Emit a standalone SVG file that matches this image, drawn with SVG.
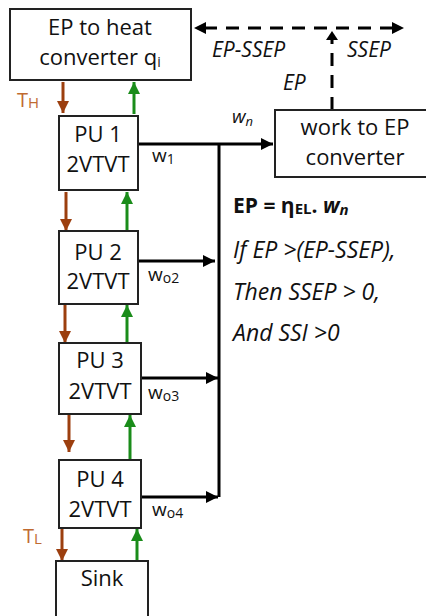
<svg xmlns="http://www.w3.org/2000/svg" width="426" height="616" viewBox="0 0 426 616">
<style>
.box{fill:#fff;stroke:#222;stroke-width:2}
.t{font-family:"Open Sans","Noto Sans",sans-serif;font-size:22px;fill:#111;text-anchor:middle}
.l{font-family:"Open Sans","Noto Sans",sans-serif;font-size:19px;fill:#111}
.s{font-family:"Open Sans","Noto Sans",sans-serif;font-size:21px;fill:#111}
.e{font-family:"Open Sans","Noto Sans",sans-serif;font-size:23px;fill:#111}
.i{font-style:italic}
.k{stroke:#000;stroke-width:3;fill:none}
.d{stroke:#000;stroke-width:3;fill:none;stroke-dasharray:13 9}
.br{stroke:#9C3F0F;stroke-width:3;fill:none}
.gr{stroke:#1A8C1A;stroke-width:3;fill:none}
.tc{font-family:"Open Sans","Noto Sans",sans-serif;font-size:20px;fill:#C06A30}
</style>
<defs>
<marker id="ak" markerWidth="12" markerHeight="12" refX="10" refY="5" orient="auto" markerUnits="userSpaceOnUse" viewBox="0 0 10 10"><path d="M0,0L10,5L0,10z" fill="#000"/></marker>
<marker id="ab" markerWidth="12" markerHeight="12" refX="10" refY="5" orient="auto" markerUnits="userSpaceOnUse" viewBox="0 0 10 10"><path d="M0,0L10,5L0,10z" fill="#9C3F0F"/></marker>
<marker id="ag" markerWidth="12" markerHeight="12" refX="10" refY="5" orient="auto" markerUnits="userSpaceOnUse" viewBox="0 0 10 10"><path d="M0,0L10,5L0,10z" fill="#1A8C1A"/></marker>
</defs>
<g id="connectors">
<path class="d" d="M332,110V36"/>
<path class="d" d="M204,28H396"/>
<path d="M194,28L206,22L206,34z" fill="#000"/>
<path d="M404,28L392,22L392,34z" fill="#000"/>
<path d="M332,31L326,40L338,40z" fill="#000"/>
<path class="k" d="M138,144H273" marker-end="url(#ak)"/>
<path class="k" d="M219,144V497"/>
<path class="k" d="M138,261H215" marker-end="url(#ak)"/>
<path class="k" d="M141,378H218" marker-end="url(#ak)"/>
<path class="k" d="M141,497H218" marker-end="url(#ak)"/>
<path class="br" d="M63,82V113" marker-end="url(#ab)"/>
<path class="gr" d="M134,114V82" marker-end="url(#ag)"/>
<path class="br" d="M66,192V231" marker-end="url(#ab)"/>
<path class="gr" d="M127,231V192" marker-end="url(#ag)"/>
<path class="br" d="M65,305V343" marker-end="url(#ab)"/>
<path class="gr" d="M127,343V305" marker-end="url(#ag)"/>
<path class="br" d="M69,415V452" marker-end="url(#ab)"/>
<path class="gr" d="M130,460V415" marker-end="url(#ag)"/>
<path class="br" d="M62,529V561" marker-end="url(#ab)"/>
<path class="gr" d="M137,561V529" marker-end="url(#ag)"/>
</g>
<g id="ep-heat">
<rect class="box" x="10" y="9" width="181" height="71"/>
<text class="t" x="100" y="35">EP to heat</text>
<text class="t" x="100" y="65">converter q<tspan font-size="14" dy="2">i</tspan></text>
</g>
<g id="work-ep">
<rect class="box" x="275" y="110" width="152" height="67"/>
<text class="t" x="355" y="135">work to EP</text>
<text class="t" x="355" y="165">converter</text>
</g>
<g id="pu1">
<rect class="box" x="59" y="116" width="79" height="74"/>
<text class="t" x="98" y="142">PU 1</text>
<text class="t" x="98" y="172">2VTVT</text>
</g>
<g id="pu2">
<rect class="box" x="59" y="231" width="79" height="73"/>
<text class="t" x="98" y="260">PU 2</text>
<text class="t" x="98" y="289">2VTVT</text>
</g>
<g id="pu3">
<rect class="box" x="59" y="343" width="82" height="71"/>
<text class="t" x="100" y="368">PU 3</text>
<text class="t" x="100" y="399">2VTVT</text>
</g>
<g id="pu4">
<rect class="box" x="59" y="460" width="82" height="68"/>
<text class="t" x="100" y="487">PU 4</text>
<text class="t" x="100" y="517">2VTVT</text>
</g>
<g id="sink">
<rect class="box" x="56" y="561" width="92" height="60"/>
<text class="t" x="102" y="586">Sink</text>
</g>
<g id="labels">
<text class="tc" x="17" y="107">T<tspan font-size="15" dy="1">H</tspan></text>
<text class="tc" x="23" y="543">T<tspan font-size="15" dy="1">L</tspan></text>
<text class="s i" x="212" y="57">EP-SSEP</text>
<text class="s i" x="347" y="57">SSEP</text>
<text class="s i" x="283" y="90">EP</text>
<text class="l i" x="232" y="123" font-size="20">w<tspan font-size="13" dy="3">n</tspan></text>
<text class="l" x="152" y="162">w<tspan font-size="14" dy="2">1</tspan></text>
<text class="l" x="148" y="281">w<tspan font-size="14" dy="2">o2</tspan></text>
<text class="l" x="148" y="399">w<tspan font-size="14" dy="2">o3</tspan></text>
<text class="l" x="152" y="516">w<tspan font-size="14" dy="2">o4</tspan></text>
<text class="s" x="233" y="213" font-weight="bold" font-size="22">EP = η<tspan font-size="15" dy="1">EL</tspan><tspan dy="-1">. </tspan><tspan font-style="italic">w</tspan><tspan font-style="italic" font-size="15" dy="2">n</tspan></text>
<text class="e i" x="233" y="258">If EP &gt;(EP-SSEP),</text>
<text class="e i" x="233" y="300">Then SSEP &gt; 0,</text>
<text class="e i" x="233" y="341">And SSI &gt;0</text>
</g>
</svg>
